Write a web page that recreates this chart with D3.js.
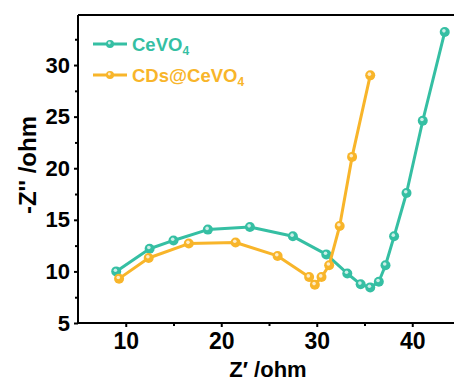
<!DOCTYPE html>
<html>
<head>
<meta charset="utf-8">
<script src="https://cdn.jsdelivr.net/npm/d3@7"></script>
<style>
  body { margin: 0; background: #fff; }
  svg { display: block; font-family: "Liberation Sans", Arial, sans-serif; font-weight: bold; }
</style>
</head>
<body>
<div id="wrap"></div>
<script>
//data
var ceX = [9.0, 12.5, 15.0, 18.6, 23.0, 27.5, 31.0, 33.2, 34.6, 35.6, 36.5, 37.2, 38.1, 39.4, 41.1, 43.4];
var ceY = [10.0, 12.2, 13.0, 14.05, 14.3, 13.4, 11.65, 9.8, 8.75, 8.45, 9.0, 10.6, 13.4, 17.6, 24.6, 33.2];
var cdX = [9.3, 12.4, 16.6, 21.5, 25.9, 29.2, 29.8, 30.5, 31.3, 32.4, 33.7, 35.6];
var cdY = [9.3, 11.3, 12.7, 12.8, 11.5, 9.45, 8.7, 9.45, 10.6, 14.4, 21.1, 29.0];
var seriesNames = ["CeVO", "CDs@CeVO"];
var xTicks = [10, 20, 30, 40];
var yTicks = [5, 10, 15, 20, 25, 30];

(function(){
	var W = 454, H = 382;
	var m = {left: 78, top: 15, right: 460, bottom: 323};
	var colors = ["#35bfa3", "#f8b52a"];

	var svg = d3.select("#wrap").append("svg").attr("width", W).attr("height", H);

	var x = d3.scaleLinear().domain([5, 45]).range([m.left, m.right]);
	var y = d3.scaleLinear().domain([5, 34.85]).range([m.bottom, m.top]);

	//frame top line (right side falls outside picture)
	svg.append("line").attr("x1", m.left).attr("x2", W).attr("y1", m.top).attr("y2", m.top)
		.attr("stroke", "#000").attr("stroke-width", 2);

	//axes
	var xa = svg.append("g").attr("transform", "translate(0," + m.bottom + ")")
		.call(d3.axisBottom(x).tickValues(xTicks).tickSize(4).tickPadding(6).tickFormat(d3.format("d")));
	svg.append("g").attr("transform", "translate(0," + m.bottom + ")")
		.call(d3.axisBottom(x).tickValues([15, 25, 35]).tickSize(3).tickFormat(""))
		.select(".domain").remove();
	var ya = svg.append("g").attr("transform", "translate(" + m.left + ",0)")
		.call(d3.axisLeft(y).tickValues(yTicks).tickSize(4).tickPadding(4).tickFormat(d3.format("d")));
	svg.append("g").attr("transform", "translate(" + m.left + ",0)")
		.call(d3.axisLeft(y).tickValues([7.5, 12.5, 17.5, 22.5, 27.5, 32.5]).tickSize(3).tickFormat(""))
		.select(".domain").remove();

	svg.selectAll(".domain").attr("stroke-width", 2).attr("d", null);
	xa.select(".domain").attr("d", "M" + m.left + ",0H" + W);
	ya.select(".domain").attr("d", "M0," + m.bottom + "V" + m.top);
	svg.selectAll(".tick line").attr("stroke-width", 2);
	xa.selectAll("text").attr("font-size", 23).attr("font-weight", "bold").attr("font-family", "Liberation Sans, Arial, sans-serif").attr("fill", "#000");
	ya.selectAll("text").attr("font-size", 22).attr("font-weight", "bold").attr("font-family", "Liberation Sans, Arial, sans-serif").attr("fill", "#000");

	//axis titles
	svg.append("text").attr("x", 268).attr("y", 377).attr("text-anchor", "middle")
		.attr("font-size", 22).text("Z\u2032  /ohm");
	svg.append("text").attr("transform", "translate(36,165) rotate(-90)").attr("text-anchor", "middle")
		.attr("font-size", 24).text("-Z'' /ohm");

	var plot = svg.append("g");
	var line = d3.line().x(function(d){return x(d[0])}).y(function(d){return y(d[1])});

	function drawSeries(xs, ys, c){
		var pts = xs.map(function(v, i){return [v, ys[i]]});
		plot.append("path").datum(pts).attr("d", line).attr("fill", "none")
			.attr("stroke", c).attr("stroke-width", 3).attr("stroke-linejoin", "round");
		var g = plot.append("g").selectAll("g").data(pts).enter().append("g")
			.attr("transform", function(d){return "translate(" + x(d[0]) + "," + y(d[1]) + ")"});
		g.append("circle").attr("r", 5).attr("fill", c);
		g.append("circle").attr("r", 1.8).attr("cx", -0.8).attr("cy", -1.2).attr("fill", "#fff").attr("opacity", 0.75);
	}
	drawSeries(ceX, ceY, colors[0]);
	drawSeries(cdX, cdY, colors[1]);

	//legend
	var leg = svg.append("g");
	seriesNames.forEach(function(n, i){
		var ly = 44 + i * 31;
		leg.append("line").attr("x1", 93).attr("x2", 127).attr("y1", ly).attr("y2", ly)
			.attr("stroke", colors[i]).attr("stroke-width", 3);
		leg.append("circle").attr("cx", 110).attr("cy", ly).attr("r", 4).attr("fill", colors[i]);
		leg.append("circle").attr("cx", 109.3).attr("cy", ly - 1).attr("r", 1.4).attr("fill", "#fff").attr("opacity", 0.75);
		var t = leg.append("text").attr("x", 132).attr("y", ly + 6.5).attr("font-size", 18.5).attr("fill", colors[i]);
		t.append("tspan").text(n);
		t.append("tspan").attr("font-size", 12).attr("dy", 4).text("4");
	});
})();
</script>
</body>
</html>
